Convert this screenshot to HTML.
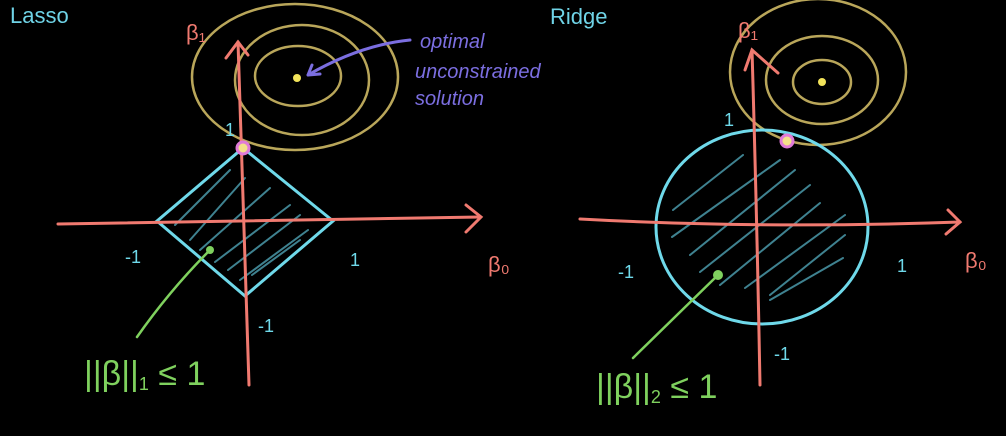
<!DOCTYPE html>
<html><head><meta charset="utf-8"><style>
html,body{margin:0;padding:0;background:#000;width:1006px;height:436px;overflow:hidden}
svg{display:block}
text{font-family:"Liberation Sans",sans-serif}
</style></head><body>
<svg width="1006" height="436" viewBox="0 0 1006 436">
<rect width="1006" height="436" fill="#000"/>
<g stroke-linecap="round" fill="none">
  <text x="10" y="23" fill="#6fd3e6" font-size="22" stroke="none">Lasso</text>
  <g stroke="#b9a65a" stroke-width="2.5">
    <ellipse cx="295" cy="77" rx="103" ry="73"/>
    <ellipse cx="302" cy="80" rx="67" ry="55"/>
    <ellipse cx="298" cy="76" rx="43" ry="30"/>
  </g>
  <circle cx="297" cy="78" r="4" fill="#f2e35a" stroke="none"/>
  <g stroke="#4fa3b5" stroke-width="2" opacity="0.8">
    <line x1="175" y1="225" x2="230" y2="170"/><line x1="190" y1="240" x2="245" y2="178"/>
    <line x1="200" y1="250" x2="270" y2="188"/><line x1="215" y1="262" x2="290" y2="205"/>
    <line x1="228" y1="270" x2="300" y2="215"/><line x1="240" y1="280" x2="308" y2="230"/>
    <line x1="252" y1="275" x2="300" y2="240"/>
  </g>
  <path d="M243,148 L333,221 L245,296 L157,221 Z" stroke="#6fd9ea" stroke-width="3"/>
  <g stroke="#f07a70" stroke-width="3">
    <path d="M58,224 Q260,221 480,217"/><path d="M466,205 L481,217 L466,232"/>
    <path d="M249,385 Q243,220 238,42"/><path d="M226,58 L238,42 L248,55"/>
  </g>
  <circle cx="243" cy="148" r="6" fill="#f4e08a" stroke="#e07ad8" stroke-width="3"/>
  <g fill="#f07a70" stroke="none" font-size="22">
    <text x="186" y="40">β₁</text>
    <text x="488" y="272">β₀</text>
  </g>
  <g fill="#6fd9ea" stroke="none" font-size="18">
    <text x="125" y="263">-1</text>
    <text x="350" y="266">1</text>
    <text x="258" y="332">-1</text>
    <text x="225" y="136">1</text>
  </g>
  <path d="M410,40 Q360,45 308,75 M308,75 l12,-1 M308,75 l4,-10" stroke="#7b6ee0" stroke-width="3"/>
  <g fill="#7b6ee0" stroke="none" font-size="20" font-style="italic">
    <text x="420" y="48">optimal</text>
    <text x="415" y="78">unconstrained</text>
    <text x="415" y="105">solution</text>
  </g>
  <path d="M210,250 Q170,290 137,337" stroke="#7fd15e" stroke-width="2.5"/>
  <circle cx="210" cy="250" r="4" fill="#7fd15e" stroke="none"/>
  <text x="84" y="385" fill="#7fd15e" stroke="none" font-size="34">||β||<tspan font-size="18" dy="5">1</tspan><tspan dy="-5"> ≤ 1</tspan></text>
</g>
<g stroke-linecap="round" fill="none">
  <text x="550" y="24" fill="#6fd3e6" font-size="22" stroke="none">Ridge</text>
  <g stroke="#b9a65a" stroke-width="2.5">
    <ellipse cx="818" cy="72" rx="88" ry="73"/>
    <ellipse cx="822" cy="80" rx="56" ry="44"/>
    <ellipse cx="822" cy="82" rx="29" ry="22"/>
  </g>
  <circle cx="822" cy="82" r="4" fill="#f2e35a" stroke="none"/>
  <g stroke="#4fa3b5" stroke-width="2" opacity="0.8">
    <line x1="673" y1="210" x2="743" y2="155"/><line x1="672" y1="237" x2="780" y2="160"/>
    <line x1="690" y1="255" x2="795" y2="170"/><line x1="700" y1="272" x2="810" y2="185"/>
    <line x1="720" y1="285" x2="820" y2="203"/><line x1="745" y1="288" x2="845" y2="215"/>
    <line x1="770" y1="295" x2="845" y2="235"/><line x1="770" y1="300" x2="843" y2="258"/>
  </g>
  <ellipse cx="762" cy="227" rx="106" ry="97" stroke="#6fd9ea" stroke-width="3"/>
  <g stroke="#f07a70" stroke-width="3">
    <path d="M580,219 Q760,229 960,222"/><path d="M948,210 L960,222 L946,234"/>
    <path d="M760,385 Q757,220 752,50"/><path d="M745,70 L752,50 L778,73"/>
  </g>
  <circle cx="787" cy="141" r="6" fill="#f4e08a" stroke="#e07ad8" stroke-width="3"/>
  <g fill="#f07a70" stroke="none" font-size="22">
    <text x="738" y="38">β₁</text>
    <text x="965" y="268">β₀</text>
  </g>
  <g fill="#6fd9ea" stroke="none" font-size="18">
    <text x="618" y="278">-1</text>
    <text x="897" y="272">1</text>
    <text x="774" y="360">-1</text>
    <text x="724" y="126">1</text>
  </g>
  <path d="M718,275 L633,358" stroke="#7fd15e" stroke-width="2.5"/>
  <circle cx="718" cy="275" r="5" fill="#7fd15e" stroke="none"/>
  <text x="596" y="398" fill="#7fd15e" stroke="none" font-size="34">||β||<tspan font-size="18" dy="5">2</tspan><tspan dy="-5"> ≤ 1</tspan></text>
</g>
</svg>
</body></html>
